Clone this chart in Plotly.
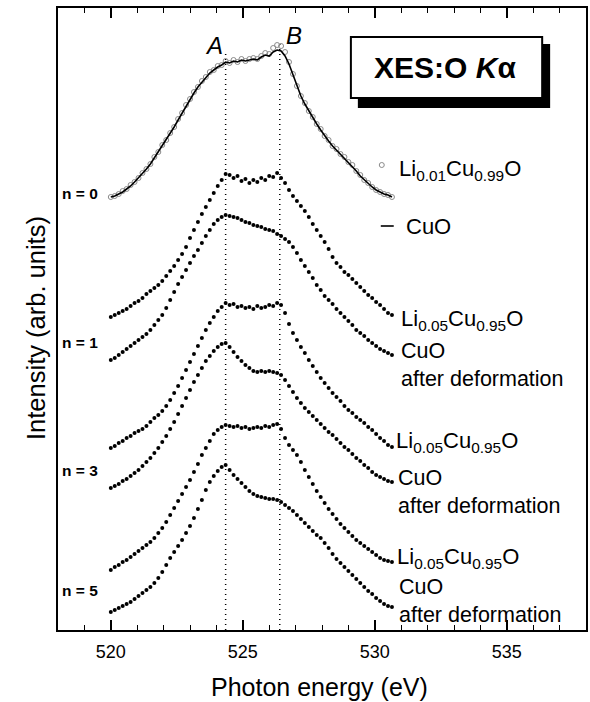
import plotly.graph_objects as go

# Photon energy grid (eV)
energy = [520.00, 520.15, 520.30, 520.45, 520.60, 520.75, 520.90, 521.05, 521.20, 521.35,
          521.50, 521.65, 521.80, 521.95, 522.10, 522.25, 522.40, 522.55, 522.70, 522.85,
          523.00, 523.15, 523.30, 523.45, 523.60, 523.75, 523.90, 524.05, 524.20, 524.35,
          524.50, 524.65, 524.80, 524.95, 525.10, 525.25, 525.40, 525.55, 525.70, 525.85,
          526.00, 526.15, 526.30, 526.45, 526.60, 526.75, 526.90, 527.05, 527.20, 527.35,
          527.50, 527.65, 527.80, 527.95, 528.10, 528.25, 528.40, 528.55, 528.70, 528.85,
          529.00, 529.15, 529.30, 529.45, 529.60, 529.75, 529.90, 530.05, 530.20, 530.35,
          530.50, 530.65]

# n = 0 : Li0.01Cu0.99O (circles) and CuO (line)
li001 = [0, 1, 3, 6, 8, 12, 15, 19, 24, 28, 33, 40, 45, 52, 57, 64, 70, 78, 84, 92,
         98, 105, 110, 116, 120, 125, 127, 131, 132, 136, 134, 137, 135, 138, 136, 138, 139, 138, 141, 144,
         143, 149, 152, 151, 145, 135, 123, 111, 101, 94, 86, 80, 73, 68, 61, 57, 51, 48, 43, 40,
         35, 32, 26, 22, 17, 14, 10, 7, 5, 3, 2, 0]
cuo_n0 = [0, 1, 3, 5, 8, 11, 15, 19, 23, 28, 33, 39, 45, 51, 57, 63, 70, 77, 84, 91,
          98, 104, 110, 115, 120, 124, 127, 130, 132, 135, 134, 136, 135, 137, 136, 137, 138, 137, 140, 142,
          141, 145, 147, 146, 141, 133, 122, 110, 101, 93, 86, 79, 73, 67, 61, 56, 51, 47, 43, 39,
          35, 31, 26, 21, 17, 13, 10, 7, 5, 3, 2, 0]
# n = 1
li005_n1 = [0, 2, 4, 6, 8, 11, 14, 16, 19, 23, 26, 29, 32, 36, 41, 46, 51, 57, 63, 70,
            79, 87, 95, 103, 110, 117, 124, 131, 137, 143, 142, 139, 141, 136, 138, 134, 137, 135, 139, 137,
            141, 140, 144, 139, 134, 127, 121, 116, 111, 106, 100, 93, 87, 81, 75, 68, 60, 54, 50, 45,
            42, 38, 34, 30, 26, 22, 19, 15, 12, 8, 4, 2]
cuodef_n1 = [0, 2, 5, 8, 11, 14, 17, 20, 23, 26, 30, 35, 40, 45, 52, 60, 68, 76, 83, 90,
             97, 104, 110, 117, 124, 130, 136, 140, 143, 145, 144, 143, 142, 140, 138, 137, 135, 134, 133, 131,
             130, 129, 126, 124, 121, 118, 113, 107, 100, 94, 88, 82, 75, 70, 64, 60, 56, 51, 47, 43,
             39, 35, 30, 27, 24, 20, 17, 14, 11, 9, 7, 5]
# n = 3
li005_n3 = [0, 2, 5, 7, 10, 12, 15, 17, 19, 22, 26, 30, 33, 37, 42, 48, 55, 62, 70, 78,
            86, 94, 102, 110, 118, 125, 131, 137, 141, 145, 143, 144, 141, 142, 140, 141, 139, 142, 140, 141,
            143, 142, 145, 143, 135, 124, 115, 108, 101, 95, 88, 82, 76, 70, 65, 60, 55, 51, 47, 42,
            38, 35, 31, 28, 25, 21, 18, 14, 10, 7, 3, 1]
cuodef_n3 = [0, 2, 4, 7, 9, 12, 15, 18, 22, 26, 30, 35, 40, 46, 52, 59, 66, 74, 82, 90,
             98, 106, 113, 120, 127, 132, 137, 141, 144, 145, 141, 136, 131, 127, 123, 120, 117, 116, 117, 116,
             117, 116, 115, 113, 108, 102, 96, 90, 85, 80, 76, 72, 68, 64, 60, 56, 53, 49, 45, 41,
             38, 34, 30, 27, 23, 20, 16, 13, 11, 9, 7, 6]
# n = 5
li005_n5 = [0, 3, 5, 8, 10, 13, 16, 19, 22, 25, 28, 32, 37, 42, 48, 55, 62, 69, 76, 83,
            90, 98, 106, 115, 122, 129, 136, 140, 143, 145, 144, 143, 144, 142, 143, 141, 142, 143, 142, 144,
            143, 145, 146, 141, 132, 125, 120, 115, 108, 100, 93, 86, 79, 73, 67, 61, 56, 51, 46, 42,
            38, 34, 30, 27, 24, 21, 18, 15, 12, 10, 9, 8]
cuodef_n5 = [0, 2, 4, 6, 8, 10, 13, 16, 19, 22, 25, 29, 34, 40, 47, 54, 60, 66, 72, 79,
             86, 94, 103, 112, 122, 130, 136, 141, 145, 147, 142, 137, 133, 129, 125, 121, 118, 116, 115, 114,
             113, 113, 112, 110, 107, 104, 101, 97, 93, 89, 85, 81, 77, 74, 69, 64, 58, 53, 49, 45,
             41, 37, 33, 29, 25, 21, 18, 14, 11, 8, 6, 5]

# vertical stacking offsets (arb. units)
offsets = {"n0": 433, "li_n1": 313, "def_n1": 270, "li_n3": 182, "def_n3": 142, "li_n5": 60, "def_n5": 18}

peak_A = 524.35
peak_B = 526.4
x_ticks = [520, 525, 530, 535]

FONT = "Liberation Sans, Arial, Helvetica, sans-serif"


def X(px):
    return 518 + (px - 58) * 20 / 530


def Y(py):
    return 630 - py


def shift(vals, off):
    return [v + off for v in vals]


fig = go.Figure()

# dotted reference lines A and B
fig.add_trace(go.Scatter(x=[peak_A, peak_A], y=[0, Y(52)], mode="lines",
                         line=dict(color="black", width=1.5, dash="1px,4px"), showlegend=False))
fig.add_trace(go.Scatter(x=[peak_B, peak_B], y=[0, Y(42)], mode="lines",
                         line=dict(color="black", width=1.5, dash="1px,4px"), showlegend=False))

# n = 0
fig.add_trace(go.Scatter(x=energy, y=shift(li001, offsets["n0"]), mode="markers",
                         marker=dict(symbol="circle-open", size=5, color="#8a8a8a", line=dict(width=1)),
                         showlegend=False))
fig.add_trace(go.Scatter(x=energy, y=shift(cuo_n0, offsets["n0"]), mode="lines",
                         line=dict(color="black", width=1.6), showlegend=False))

dots = dict(symbol="circle", size=4, color="black")
for vals, key in [(li005_n1, "li_n1"), (cuodef_n1, "def_n1"), (li005_n3, "li_n3"),
                  (cuodef_n3, "def_n3"), (li005_n5, "li_n5"), (cuodef_n5, "def_n5")]:
    fig.add_trace(go.Scatter(x=energy, y=shift(vals, offsets[key]), mode="markers",
                             marker=dots, showlegend=False))

# legend symbols
fig.add_trace(go.Scatter(x=[X(383)], y=[Y(165)], mode="markers",
                         marker=dict(symbol="circle-open", size=5, color="#8a8a8a"), showlegend=False))
fig.add_trace(go.Scatter(x=[X(382), X(395)], y=[Y(226), Y(226)], mode="lines",
                         line=dict(color="black", width=1.6), showlegend=False))

annotations = []


def txt(text, px, py, size=20, xanchor="left", bold=False, **kw):
    if bold:
        text = "<b>" + text + "</b>"
    annotations.append(dict(x=X(px), y=Y(py), xref="x", yref="y", text=text, showarrow=False,
                            xanchor=xanchor, yanchor="middle", align="left",
                            font=dict(family=FONT, size=size, color="black"), **kw))


txt("<i>A</i>", 215, 45, size=24, xanchor="center")
txt("<i>B</i>", 295, 35, size=24, xanchor="center")
txt("<b>XES:O <i>K</i>α</b>", 446, 67, size=30, xanchor="center")

txt("Li<sub>0.01</sub>Cu<sub>0.99</sub>O", 398, 170, size=22)
txt("CuO", 405, 226, size=22)
txt("Li<sub>0.05</sub>Cu<sub>0.95</sub>O", 400, 320, size=22)
txt("CuO<br>after deformation", 400, 365, size=21.5)
txt("Li<sub>0.05</sub>Cu<sub>0.95</sub>O", 395, 442, size=22)
txt("CuO<br>after deformation", 397, 492, size=21.5)
txt("Li<sub>0.05</sub>Cu<sub>0.95</sub>O", 396, 558, size=22)
txt("CuO<br>after deformation", 398, 601, size=21.5)

for lab, py in [("n = 0", 193), ("n = 1", 342), ("n = 3", 470), ("n = 5", 590)]:
    txt(lab, 60, py, size=15.5, bold=True)

# axis titles
annotations.append(dict(x=-0.043, y=0.486, xref="paper", yref="paper", text="Intensity (arb. units)",
                        showarrow=False, textangle=-90, xanchor="center", yanchor="middle",
                        font=dict(family=FONT, size=25.5, color="black")))
annotations.append(dict(x=0.495, y=-0.092, xref="paper", yref="paper", text="Photon energy (eV)",
                        showarrow=False, xanchor="center", yanchor="middle",
                        font=dict(family=FONT, size=25, color="black")))

shapes = [
    dict(type="rect", xref="x", yref="y", x0=X(359), x1=X(552), y0=Y(108), y1=Y(44),
         fillcolor="black", line=dict(width=0), layer="above"),
    dict(type="rect", xref="x", yref="y", x0=X(352), x1=X(544), y0=Y(98), y1=Y(37),
         fillcolor="white", line=dict(color="black", width=2), layer="above"),
]

fig.update_layout(
    width=590, height=702,
    margin=dict(l=58, r=2, t=8, b=72),
    plot_bgcolor="white", paper_bgcolor="white",
    font=dict(family=FONT, size=18, color="black"),
    annotations=annotations, shapes=shapes, showlegend=False,
    xaxis=dict(range=[518, 538], tickvals=x_ticks, ticktext=[str(t) for t in x_ticks],
               ticks="inside", ticklen=10, tickwidth=1.5, tickcolor="black",
               minor=dict(dtick=1, tick0=518, ticks="inside", ticklen=5, tickwidth=1.3, tickcolor="black"),
               showline=True, linecolor="black", linewidth=2, mirror="ticks",
               showgrid=False, zeroline=False, tickfont=dict(family=FONT, size=18),
               ticklabelstandoff=4),
    yaxis=dict(range=[0, 622], showticklabels=False, ticks="", showline=True, linecolor="black",
               linewidth=2, mirror=True, showgrid=False, zeroline=False),
)

fig.write_html("out.html", config={"displayModeBar": False},
               post_script="document.body.style.margin='0';document.body.style.overflow='hidden';")
